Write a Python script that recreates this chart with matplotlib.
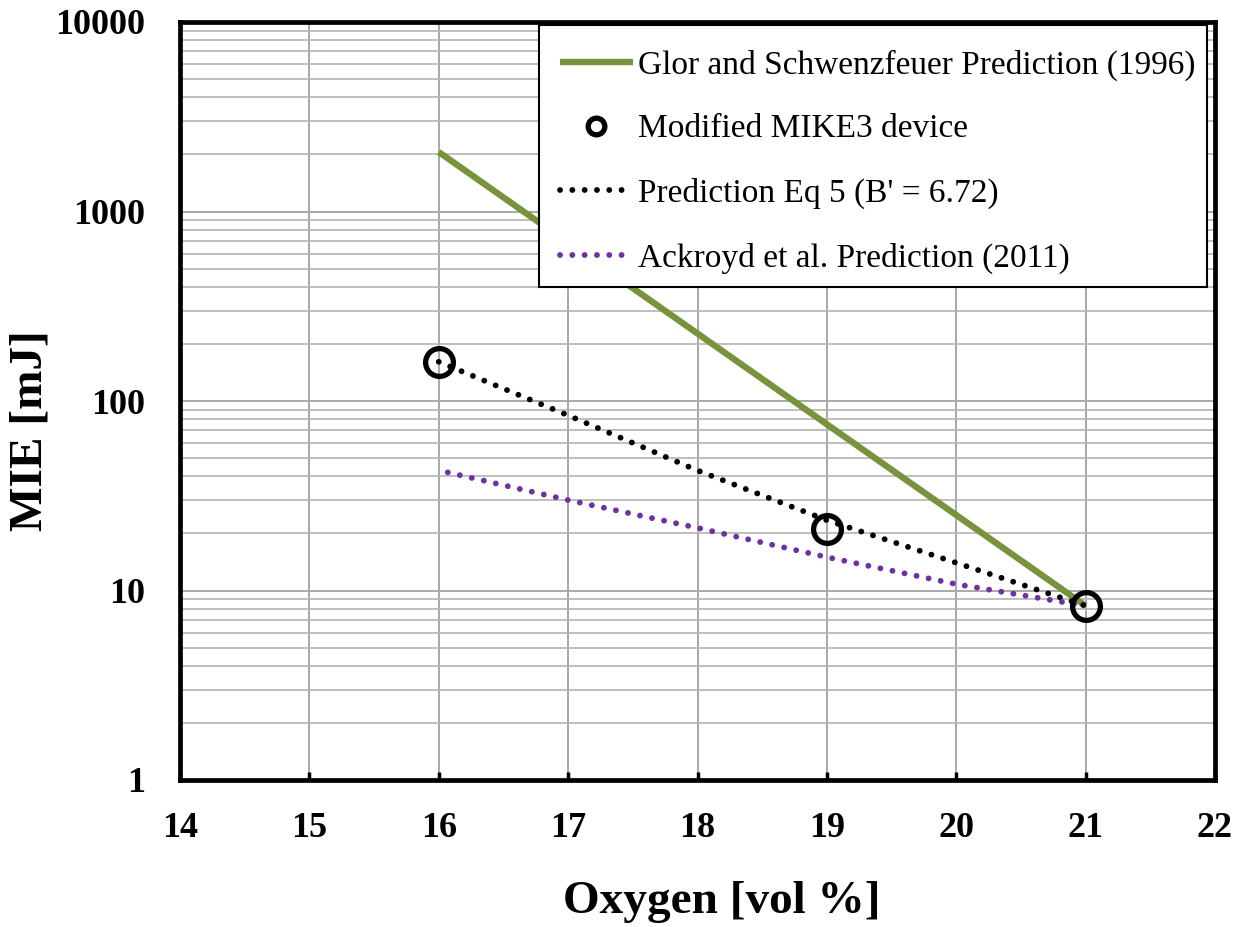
import numpy as np
import matplotlib
matplotlib.use('Agg')
import matplotlib.pyplot as plt
import matplotlib.ticker as ticker
from matplotlib import rcParams
from matplotlib.patches import Rectangle

rcParams['font.family'] = 'serif'
rcParams['font.serif'] = ['Liberation Serif', 'DejaVu Serif']

## Data
o2_glor = [16, 21]
mie_glor = [2060, 8.3]

o2_meas = [16, 19, 21]
mie_meas = [160, 21, 8.3]

o2_eq5 = [16, 17, 18, 19, 20, 21]
mie_eq5 = [161, 84, 43, 23.5, 14, 8.3]

o2_ack = [16.07, 17, 18, 19, 20, 21]
mie_ack = [42, 30, 21.4, 15, 10.8, 8.3]

labels = ['Glor and Schwenzfeuer Prediction (1996)',
          'Modified MIKE3 device',
          "Prediction Eq 5 (B' = 6.72)",
          'Ackroyd et al. Prediction (2011)']

green = '#77933c'
purple = '#7030a0'
W, H = 1246, 927

fig = plt.figure(figsize=(W/100, H/100), dpi=100)
ax = fig.add_axes([180/W, 1-780/H, (1215-180)/W, (780-22)/H])

dot = (0, (0.01, 2.1))
l1, = ax.plot(o2_glor, mie_glor, color=green, lw=4.6, solid_capstyle='butt', zorder=3)
l3, = ax.plot(o2_eq5, mie_eq5, color='black', lw=4.2, linestyle=dot,
              dash_capstyle='round', zorder=4)
l4, = ax.plot(o2_ack, mie_ack, color=purple, lw=4.2, linestyle=dot,
              dash_capstyle='round', zorder=4)
l2, = ax.plot(o2_meas, mie_meas, linestyle='none', marker='o', ms=20,
              mfc='none', mec='black', mew=3.8, zorder=5)

ax.set_yscale('log')
ax.set_xlim(14, 22)
ax.set_ylim(1, 10000)
ax.xaxis.set_major_locator(ticker.MultipleLocator(1))
ax.yaxis.set_major_locator(ticker.LogLocator(base=10, numticks=10))
ax.yaxis.set_minor_locator(ticker.LogLocator(base=10, subs=np.arange(2, 10), numticks=10))
ax.yaxis.set_major_formatter(ticker.FuncFormatter(lambda v, p: '%d' % round(v)))
ax.yaxis.set_minor_formatter(ticker.NullFormatter())

ax.grid(True, which='major', color='#a8a8a8', lw=1.4, zorder=0)
ax.grid(True, which='minor', axis='y', color='#b4b4b4', lw=1.2, zorder=0)
ax.set_axisbelow(True)

for s in ax.spines.values():
	s.set_linewidth(3.4)
	s.set_color('black')

ax.tick_params(axis='x', direction='in', length=6, width=2.5, pad=23,
               labelsize=26)
ax.tick_params(axis='y', which='both', length=0, pad=25, labelsize=26)
for t in ax.get_xticklabels() + ax.get_yticklabels():
	t.set_fontweight('bold')

fig.text(722/W, 1-902/H, 'Oxygen [vol %]', fontsize=34, fontweight='bold',
         ha='center', va='center')
fig.text(31/W, 1-431/H, 'MIE [mJ]', fontsize=34, fontweight='bold',
         ha='center', va='center', rotation=90)

# legend box drawn on its own so the entries can sit a bit lower in it
box = Rectangle((539/W, 1-287/H), (1207-539)/W, (287-25)/H, transform=fig.transFigure,
                facecolor='white', edgecolor='black', lw=1.5, zorder=9)
fig.patches.append(box)

leg = ax.legend([l1, l2, l3, l4], labels, loc='upper right',
                bbox_to_anchor=(1214/W, 1-31/H), bbox_transform=fig.transFigure,
                borderaxespad=0, fontsize=24, frameon=False,
                handlelength=2.2, handletextpad=0.15, labelspacing=1.0,
                borderpad=0.55, markerscale=0.6)
leg.remove()
fig.legends.append(leg)
leg.set_zorder(10)

fig.savefig('out.png', dpi=100)
